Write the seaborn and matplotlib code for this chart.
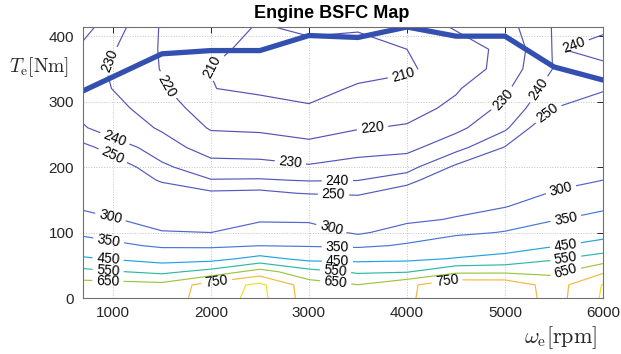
import numpy as np
import matplotlib
matplotlib.use("Agg")
import matplotlib.pyplot as plt
import seaborn as sns

speed_rpm = [690, 1500, 2000, 2500, 3000, 3500, 4000, 4500, 5000, 5500, 6000]
torque_nm = [0, 20, 40, 60, 80, 100, 120, 140, 160, 180, 200, 230, 260, 290, 320, 350, 380, 415]

bsfc_t0   = [700, 685, 805, 880, 700, 660, 732, 830, 830, 708, 862]
bsfc_t20  = [690, 678, 795, 872, 695, 652, 728, 825, 822, 705, 855]
bsfc_t40  = [579, 527, 584, 692, 584, 536, 544, 630, 632, 628, 735]
bsfc_t60  = [462, 412, 418, 480, 423, 424, 430, 455, 479, 540, 600]
bsfc_t80  = [383, 339, 337, 349, 345, 338, 357, 390, 407, 443, 482]
bsfc_t100 = [337, 302, 300, 321, 319, 294, 318, 338, 353, 392, 417]
bsfc_t120 = [312, 287, 284, 295, 294, 278, 292, 303, 324, 346, 371]
bsfc_t140 = [295, 274, 268, 274, 270, 261, 275, 289, 298, 324, 339]
bsfc_t160 = [286, 260, 252, 253, 249, 248, 258, 277, 288, 302, 320]
bsfc_t180 = [276, 248, 240.5, 240.8, 239.4, 239.8, 245, 264, 277, 293, 300]
bsfc_t200 = [267, 242, 233.7, 233.3, 231.2, 233.9, 236.3, 252, 266.5, 285, 292]
bsfc_t230 = [253, 234.4, 225.6, 225, 222.7, 226, 227.2, 236.4, 250.5, 273, 281]
bsfc_t260 = [240.8, 228.8, 219.1, 218.4, 216.2, 219.4, 220.9, 227.5, 238.1, 261.7, 269.7]
bsfc_t290 = [237.5, 225, 214.7, 213, 210.6, 215, 216.6, 222.1, 232.5, 250, 258.3]
bsfc_t320 = [235, 221.3, 210.2, 208.5, 208, 210.7, 212.6, 219, 228, 245, 248.4]
bsfc_t350 = [234.5, 219.5, 209.9, 207.5, 206.5, 208, 209, 213.5, 224, 240.5, 242.4]
bsfc_t380 = [238, 219, 211.5, 208, 208, 208.5, 210, 216, 222, 240.8, 236.5]
bsfc_t415 = [244, 219, 213, 209.5, 211.5, 210.5, 215, 221, 226, 240.8, 242]

max_torque_speed = [690, 1500, 2000, 2500, 3000, 3500, 4000, 4500, 5000, 5500, 6000]
max_torque = [316, 373, 378, 378, 401, 398, 414, 400, 400, 353, 333]

levels = [210, 220, 230, 240, 250, 300, 350, 450, 550, 650, 750, 850]
level_colors = ["#5550b6", "#5552b7", "#5454b8", "#5357ba", "#525abd", "#4e66c8",
                "#4676d8", "#22a2e2", "#2db9a4", "#9cc63e", "#f5b83c", "#f2df1e"]

x_ticks = [1000, 2000, 3000, 4000, 5000, 6000]
y_ticks = [0, 100, 200, 300, 400]

label_pos = [(1000, 360), (1480, 320), (1990, 358), (3970, 333), (3650, 258),
             (2810, 206), (4990, 302), (1000, 236), (985, 213), (3290, 179),
             (3250, 154), (5380, 315), (5710, 384), (5430, 284),
             (967, 119), (3220, 101), (5570, 166),
             (950, 81), (3290, 76), (5620, 122),
             (950, 58), (3290, 55), (5620, 78),
             (950, 40), (3270, 38), (5620, 61),
             (950, 26), (3270, 20), (5620, 40),
             (2060, 23), (4410, 25)]

# ---- styling ----
sns.set_theme(style="white")
plt.rcParams["font.family"] = ["Liberation Sans", "DejaVu Sans"]
plt.rcParams["mathtext.fontset"] = "cm"

fig = plt.figure(figsize=(6.21, 3.54), dpi=100)
ax = fig.add_axes([82.5 / 621, 1 - 298 / 354, (603 - 82.5) / 621, (298 - 27) / 354])

Z = np.array([bsfc_t0, bsfc_t20, bsfc_t40, bsfc_t60, bsfc_t80, bsfc_t100, bsfc_t120,
              bsfc_t140, bsfc_t160, bsfc_t180, bsfc_t200, bsfc_t230, bsfc_t260,
              bsfc_t290, bsfc_t320, bsfc_t350, bsfc_t380, bsfc_t415], dtype=float)
X, Y = np.meshgrid(speed_rpm, torque_nm)

cs = ax.contour(X, Y, Z, levels=levels, colors=level_colors, linewidths=0.85)
ax.clabel(cs, levels, inline=True, fmt="%d", fontsize=10, colors="black",
          manual=label_pos, inline_spacing=4)

sns.lineplot(x=max_torque_speed, y=max_torque, ax=ax, color="#3350b0",
             linewidth=3.8, sort=False)

ax.set_xlim(690, 6000)
ax.set_ylim(0, 414)
ax.set_xticks(x_ticks)
ax.set_yticks(y_ticks)
ax.grid(True, linestyle=":", color="#c4c4c4", linewidth=0.7)
ax.tick_params(direction="in", length=4, top=True, right=True, labelsize=11,
               colors="#262626", pad=6, width=0.7)
for s in ax.spines.values():
    s.set_visible(True)
    s.set_color("#707070")
    s.set_linewidth(0.8)
ax.set_xlabel("")
ax.set_ylabel("")

fig.text(332 / 621, 1 - 13 / 354, "Engine BSFC Map", ha="center", va="center",
         fontsize=13, fontweight="bold", color="black")
fig.text(9 / 621, 1 - 67 / 354, r"$T_{\mathrm{e}}[\mathrm{Nm}]$", ha="left",
         va="center", fontsize=14, color="#262626")
fig.text(597 / 621, 1 - 338 / 354, r"$\omega_{\mathrm{e}}[\mathrm{rpm}]$", ha="right",
         va="center", fontsize=16, color="#262626")

fig.savefig("out.png", dpi=100, facecolor="white")
